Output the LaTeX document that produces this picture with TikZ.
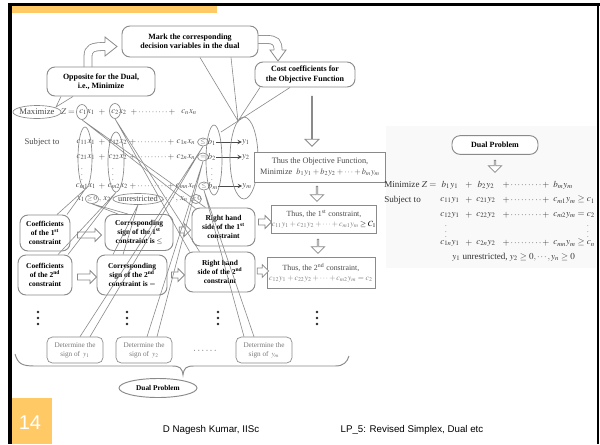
\documentclass[tikz,border=0pt]{standalone}
\usepackage{mathptmx}
\usepackage{fontspec}
\setmainfont{Liberation Serif}
\newfontfamily\footfont{Liberation Sans}
\usetikzlibrary{shapes.geometric,shapes.arrows,calc}
\definecolor{orng}{HTML}{FFC966}
\definecolor{lg}{HTML}{8A8A8A}
\definecolor{eqc}{HTML}{4A4A4A}
\definecolor{dg}{HTML}{7A7A7A}
\begin{document}
\begin{tikzpicture}[x=0.75pt,y=-0.75pt,
  callout/.style={draw=lg, line width=0.7pt, rounded corners=6pt, fill=white, align=center, inner sep=0pt, font=\fontsize{6}{6.8}\selectfont\bfseries},
  cbox/.style={callout, font=\fontsize{5.6}{6.5}\selectfont\bfseries},
  rbox/.style={draw=lg, line width=0.6pt, fill=white, align=center, inner sep=0pt, text=eqc, font=\fontsize{6.2}{7.6}\selectfont},
  dbox/.style={draw=lg, line width=0.5pt, rounded corners=4pt, fill=white, align=center, inner sep=0pt, text=dg, font=\fontsize{5.4}{6.8}\selectfont, minimum width=42pt, minimum height=19.5pt},
  eq/.style={inner sep=0pt, text=eqc, font=\fontsize{6.5}{7.5}\selectfont},
  req/.style={inner sep=0pt, text=black!80, font=\fontsize{6.8}{8}\selectfont},
  ring/.style={ellipse, draw=lg, line width=0.5pt, inner sep=0pt},
  wedge/.style={draw=lg, line width=0.45pt},
  barrow/.style={single arrow, draw=lg, line width=0.6pt, fill=white, inner xsep=0pt, inner ysep=1.9pt, single arrow head extend=2.6pt},
  svdt/.style={inner sep=0pt, text=eqc, font=\fontsize{5}{5}\selectfont}]
\useasboundingbox (0,0) rectangle (600,444);
\fill[white] (0,0) rectangle (600,444);
\fill[gray!5] (386,126) rectangle (596,268);
% frame
\fill[black] (8,3) rectangle (12,444);
\fill[black] (8,3) rectangle (600,5.5);
\fill[black] (596.5,3) rectangle (599,444);
\fill[orng] (12,5.5) rectangle (217,12.5);
\fill[orng] (12,398) rectangle (52,444);
\node[text=white, font=\footfont\fontsize{15}{15}\selectfont, inner sep=0pt] (pg) at (30,423) {14};
\node[font=\footfont\fontsize{7.3}{8}\selectfont, inner sep=0pt] (auth) at (211,430) {D Nagesh Kumar, IISc};
\node[font=\footfont\fontsize{7.3}{8}\selectfont, inner sep=0pt] (lp) at (412,430) {LP\_5: Revised Simplex, Dual etc};

% curved block arrows
\draw[draw=lg, line width=0.6pt, double=white, double distance=5.4pt] (88,68) -- (88,57) .. controls (88,48) and (92,46.5) .. (105.5,46.5);
\fill[white] (105,37) -- (117,46.5) -- (105,56) -- cycle;
\draw[lg, line width=0.6pt, line join=miter] (105,42.6) -- (105,37) -- (117,46.5) -- (105,56) -- (105,50.4);
\draw[draw=lg, line width=0.6pt, double=white, double distance=5.4pt] (256,39.5) -- (266,39.5) .. controls (276,39.5) and (278,42) .. (278,50.5);
\fill[white] (270,50) -- (286,50) -- (278,61) -- cycle;
\draw[lg, line width=0.6pt, line join=miter] (274.1,50) -- (270,50) -- (278,61) -- (286,50) -- (281.9,50);

% callouts
\node[callout, minimum width=102pt, minimum height=23.25pt] (mark) at (190,41.5) {Mark the corresponding\\decision variables in the dual};
\node[callout, minimum width=81pt, minimum height=21.75pt] (opp) at (101,81.5) {Opposite for the Dual,\\i.e., Minimize};
\node[callout, minimum width=75pt, minimum height=18.75pt] (cost) at (305,74.5) {Cost coefficients for\\the Objective Function};

% primal problem
\node[eq] (maxt) at (37,112) {Maximize};
\node[ring, minimum width=36pt, minimum height=9.75pt] (maxe) at (37,112) {};
\node[eq] (zeq) at (68,112) {$Z=$};
\node[eq] (o1) at (87,112) {$c_1x_1$};
\node[eq] (o2) at (102,112) {$+$};
\node[eq] (o3) at (119,112) {$c_2x_2$};
\node[eq] (o4) at (153,112) {$+\cdots\cdots\cdots+$};
\node[eq] (o5) at (189,112) {$c_nx_n$};
\node[ring, minimum width=8.25pt, minimum height=11.25pt] (c1e) at (82,112) {};
\node[ring, minimum width=8.25pt, minimum height=11.25pt] (c2e) at (115,111) {};

\node[eq] (subj) at (42,142) {Subject to};
\node[eq] (r1a) at (86,142) {$c_{11}x_1$};
\node[eq] (r1p) at (102,142) {$+$};
\node[eq] (r1b) at (118,142) {$c_{12}x_2$};
\node[eq] (r1d) at (152,142) {$+\cdots\cdots\cdots+$};
\node[eq] (r1n) at (186,142) {$c_{1n}x_n$};
\node[svdt] (s1t) at (203,142) {$\leq$};
\node[ring, minimum width=8.25pt, minimum height=6pt] (s1e) at (203,142) {};
\node[eq] (b1) at (212,142) {$b_1$};
\node[eq] (y1) at (246,142) {$y_1$};

\node[eq] (r2a) at (86,157) {$c_{21}x_1$};
\node[eq] (r2p) at (102,157) {$+$};
\node[eq] (r2b) at (118,157) {$c_{22}x_2$};
\node[eq] (r2d) at (152,157) {$+\cdots\cdots\cdots+$};
\node[eq] (r2n) at (186,157) {$c_{2n}x_n$};
\node[svdt] (s2t) at (203,157) {$=$};
\node[ring, minimum width=8.25pt, minimum height=6pt] (s2e) at (203,157) {};
\node[eq] (b2) at (212,157) {$b_2$};
\node[eq] (y2) at (246,157) {$y_2$};

\node[svdt] (vd1) at (82,171) {$\vdots$};
\node[svdt] (vd2) at (113,171) {$\vdots$};
\node[svdt] (vd3) at (212,171) {$\vdots$};

\node[eq] (rma) at (86,186) {$c_{m1}x_1$};
\node[eq] (rmp) at (102,186) {$+$};
\node[eq] (rmb) at (118,186) {$c_{m2}x_2$};
\node[eq] (rmd) at (152,186) {$+\cdots\cdots\cdots+$};
\node[eq] (rmn) at (186,186) {$c_{mn}x_n$};
\node[svdt] (smt) at (204,186) {$\leq$};
\node[ring, minimum width=8.25pt, minimum height=6pt] (sme) at (204,186) {};
\node[eq] (bm) at (213,186) {$b_m$};
\node[eq] (ym) at (247,186) {$y_m$};

\draw[->, eqc, line width=0.5pt, >=stealth] (b1) -- (y1);
\draw[->, eqc, line width=0.5pt, >=stealth] (b2) -- (y2);
\draw[->, eqc, line width=0.5pt, >=stealth] (bm) -- (ym);

\node[eq] (x1t) at (81,199) {$x_1$};
\node[svdt] (x1s) at (92,199) {$\geq 0$};
\node[ring, minimum width=9.75pt, minimum height=6.75pt] (x1e) at (92,199) {};
\node[eq] (x2t) at (105,199) {$,\,x_2$};
\node[eq, font=\fontsize{6.3}{7}\selectfont] (unt) at (138,199) {unrestricted};
\node[ring, minimum width=37.5pt, minimum height=8.25pt] (unr) at (138,199) {};
\node[eq] (xdd) at (170,199) {$,\cdots,$};
\node[eq] (xnt) at (184,199) {$x_n$};
\node[svdt] (xns) at (196,199) {$\geq 0$};
\node[ring, minimum width=8.25pt, minimum height=6.75pt] (xne) at (196,199) {};

\node[ring, minimum width=10.5pt, minimum height=46.5pt] (col1) at (85,158) {};
\node[ring, minimum width=12pt, minimum height=45pt] (col2) at (116,162) {};
\node[ring, minimum width=12pt, minimum height=52.5pt] (bcol) at (214,160) {};
\node[ring, minimum width=21pt, minimum height=61.5pt] (ycol) at (244,158) {};

% right column boxes
\node[rbox, minimum width=98.25pt, minimum height=22.5pt] (TO) at (320,167) {Thus the Objective Function,\\Minimize \ $b_1y_1+b_2y_2+\cdots+b_my_m$};
\node[rbox, minimum width=76.5pt, minimum height=21pt, font=\fontsize{5.9}{7.4}\selectfont] (T1) at (324,219) {Thus, the 1\textsuperscript{st} constraint,\\{\color{dg}$c_{11}y_1+c_{21}y_2+\cdots+c_{m1}y_m$}\,{\color{black}$\geq C_1$}};
\node[rbox, minimum width=81pt, minimum height=23.25pt, font=\fontsize{5.9}{7.6}\selectfont] (T2) at (321,272.5) {Thus, the 2\textsuperscript{nd} constraint,\\{\color{dg}$c_{12}y_1+c_{22}y_2+\cdots+c_{m2}y_m=c_2$}};

% grid boxes
\node[cbox, minimum width=37.5pt, minimum height=27pt] (L1) at (45,233) {Coefficients\\of the 1\textsuperscript{st}\\constraint};
\node[cbox, minimum width=51pt, minimum height=27pt] (M1) at (139,232.5) {Corresponding\\sign of the 1\textsuperscript{st}\\constraint is $\leq$};
\node[cbox, minimum width=47.25pt, minimum height=28.5pt] (R1) at (223.5,227) {Right hand\\side of the 1\textsuperscript{st}\\constraint};
\node[cbox, minimum width=40.5pt, minimum height=30pt] (L2) at (45,275) {Coefficients\\of the 2\textsuperscript{nd}\\constraint};
\node[cbox, minimum width=52.5pt, minimum height=30pt] (M2) at (132,275) {Corresponding\\sign of the 2\textsuperscript{nd}\\constraint is $=$};
\node[cbox, minimum width=52.5pt, minimum height=30pt] (R2) at (220,272) {Right hand\\side of the 2\textsuperscript{nd}\\constraint};

% vertical dots
\foreach \vx in {38,127,218,317} {
  \foreach \vy in {312,318,324} \fill[black!85] (\vx,\vy) circle (1.3);
}

\node[dbox] (D1) at (75,350) {Determine the\\sign of \,$y_1$};
\node[dbox] (D2) at (144,350) {Determine the\\sign of \,$y_2$};
\node[inner sep=0pt, text=dg, font=\fontsize{8}{8}\selectfont] (Ddots) at (205,351) {$\cdots\cdots$};
\node[dbox] (Dm) at (264,350) {Determine the\\sign of \,$y_m$};

% block arrows
\node[barrow, minimum height=18pt, minimum width=9pt] (a1) at (88,235) {};
\node[barrow, minimum height=8.5pt, minimum width=9pt] (a2) at (183.5,230) {};
\node[barrow, minimum height=9.75pt, minimum width=9pt] (a3) at (263.5,222) {};
\node[barrow, minimum height=14.25pt, minimum width=9pt] (a4) at (85.5,277) {};
\node[barrow, minimum height=9.75pt, minimum width=9pt] (a5) at (176.5,275) {};
\node[barrow, minimum height=8.5pt, minimum width=9pt] (a6) at (261.5,271) {};
\node[barrow, shape border rotate=270, minimum height=11.25pt, minimum width=10pt] (a7) at (317,193.5) {};
\node[barrow, shape border rotate=270, minimum height=10.5pt, minimum width=10pt] (a8) at (318,246) {};
\node[barrow, shape border rotate=270, minimum height=37.5pt, minimum width=10.5pt, single arrow head extend=3.4pt] (a9) at (312,121) {};

% wedges (callout pointers)
\coordinate (ystar) at (238,121);
\draw[wedge] ($(opp.south)+(-40,0)$) -- (56,107) -- ($(opp.south)+(-28,0)$);
\draw[wedge] ($(mark.south)+(10,0)$) -- (ystar) -- ($(mark.south)+(41,0)$);
\draw[wedge] ($(cost.south)+(-45,0)$) -- (ystar) -- ($(cost.south)+(-15,0)$);
\draw[wedge] (ystar) -- (221,132);
\draw[wedge] ($(R1.north west)+(4,1)$) -- (c1e.south) -- ($(R1.north west)+(14,0)$);
\draw[wedge] ($(R2.north west)+(5,0)$) -- (c2e.south) -- ($(R2.north west)+(15,0)$);
\draw[wedge] ($(L1.north)+(12,0)$) -- (col1.south) -- ($(L1.north)+(22,0)$);
\draw[wedge] ($(L2.north)+(13,0)$) -- (col2.south) -- ($(L2.north)+(23,0)$);
\draw[wedge] ($(M1.north)+(-21,0)$) -- (x1e.south) -- ($(M1.north)+(-11,0)$);
\draw[wedge] ($(M2.north)+(-19,0)$) -- (unr.south) -- ($(M2.north)+(-9,0)$);
\draw[wedge] ($(D1.north)+(5,0)$) -- (s1e.south) -- ($(D1.north)+(15,0)$);
\draw[wedge] ($(D2.north)+(3,0)$) -- (s2e.south) -- ($(D2.north)+(13,0)$);
\draw[wedge] ($(Dm.north)+(-20,0)$) -- (sme.south) -- ($(Dm.north)+(-10,0)$);

% brace and dual problem
\draw[lg, line width=0.7pt] (15,354) .. controls (18,364) and (22,366) .. (35,366) -- (172,366) .. controls (180,366) and (182,368) .. (183,375) .. controls (184,368) and (186,366) .. (194,366) -- (335,366) .. controls (344,366) and (347,362) .. (349,356);
\node[ellipse, draw=lg, line width=0.7pt, minimum width=58.5pt, minimum height=14.25pt, inner sep=0pt, font=\fontsize{5.5}{6}\selectfont\bfseries] (dual) at (158,388) {Dual Problem};

% right panel: dual problem
\node[draw=lg, line width=0.7pt, rounded corners=6pt, fill=white, minimum width=64.5pt, minimum height=14pt, inner sep=0pt, font=\fontsize{6}{6}\selectfont\bfseries] (dual2) at (495,145) {Dual Problem};
\node[barrow, shape border rotate=270, minimum height=9pt, minimum width=10pt] (a10) at (495,166) {};
\node[req, anchor=west] (rmin) at (384,185) {Minimize $Z=$};
\node[req] (q1) at (450,185) {$b_1y_1$};
\node[req] (q2) at (469,185) {$+$};
\node[req] (q3) at (486,185) {$b_2y_2$};
\node[req] (q4) at (526,185) {$+\cdots\cdots\cdots+$};
\node[req, anchor=west] (q5) at (553,185) {$b_my_m$};
\node[req, anchor=west] (rsub) at (384,200) {Subject to};
\node[req] (p1) at (450,200) {$c_{11}y_1$};
\node[req] (p2) at (469,200) {$+$};
\node[req] (p3) at (486,200) {$c_{21}y_2$};
\node[req] (p4) at (526,200) {$+\cdots\cdots\cdots+$};
\node[req, anchor=west] (p5) at (553,200) {$c_{m1}y_m\geq c_1$};
\node[req] (u1) at (450,215) {$c_{12}y_1$};
\node[req] (u2) at (469,215) {$+$};
\node[req] (u3) at (486,215) {$c_{22}y_2$};
\node[req] (u4) at (526,215) {$+\cdots\cdots\cdots+$};
\node[req, anchor=west] (u5) at (553,215) {$c_{m2}y_m=c_2$};
\node[svdt] (rv1) at (446,228) {$\vdots$};
\node[svdt] (rv2) at (588,228) {$\vdots$};
\node[req] (n1) at (450,243) {$c_{1n}y_1$};
\node[req] (n2) at (469,243) {$+$};
\node[req] (n3) at (486,243) {$c_{2n}y_2$};
\node[req] (n4) at (526,243) {$+\cdots\cdots\cdots+$};
\node[req, anchor=west] (n5) at (553,243) {$c_{mn}y_m\geq c_n$};
\node[req, anchor=west] (lastl) at (452,257) {$y_1$ unrestricted, $y_2\geq 0,\cdots,y_n\geq 0$};
\end{tikzpicture}
\end{document}
